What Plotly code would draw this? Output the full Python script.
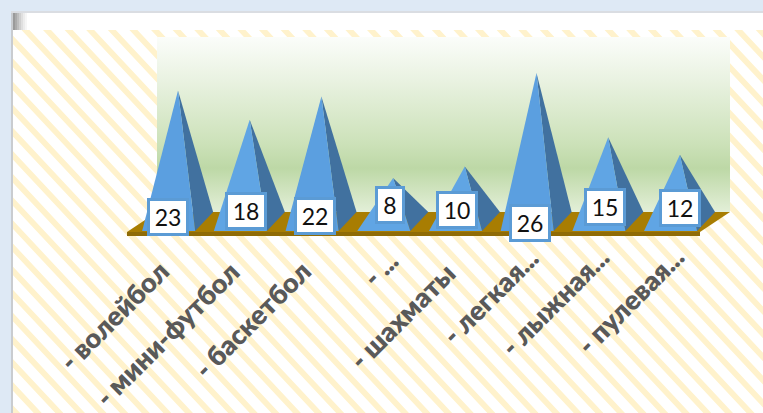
import plotly.graph_objects as go

categories = ["- волейбол", "- мини-футбол", "- баскетбол", "- ...", "- шахматы", "- легкая...", "- лыжная...", "- пулевая..."]
values = [23, 18, 22, 8, 10, 26, 15, 12]

W, H = 763, 413
X0, XS = 178.0, 71.7     # px of category 0, px per category
Y0, YS = 224.7, 5.83     # px of value 0, px per value unit

def dx(p): return (p - X0) / XS
def dy(p): return (Y0 - p) / YS
def pp(x, y): return f"{x / W:.5f} {1 - y / H:.5f}"

# label placement, in pixels
box_cx = [168, 246, 315, 390, 457, 530, 605, 680]
box_cy = [217, 211, 216, 205, 210, 223, 207, 208]
box_w = [36, 36, 36, 24, 36, 36, 36, 36]
label_end_x = [178, 249, 320, 407, 465, 548, 618, 693]
label_end_y = [252, 252, 252, 241, 253, 238, 238, 238]

# stripes behind the chart
STRIPE_PERIOD = 21.6
STRIPE_W = 8
SLOPE = 1.07
segs = []
x = 43.0 - 30 / SLOPE - 40 * STRIPE_PERIOD
while x < W + 100:
    x2 = x + 460 / SLOPE
    segs.append(f"M {pp(x, 0)} L {pp(x + STRIPE_W, 0)} L {pp(x2 + STRIPE_W, 460)} L {pp(x2, 460)} Z")
    x += STRIPE_PERIOD

PAGE = "#DEE9F5"
def rect(x0, y0, x1, y1, color):
    return dict(type="rect", xref="paper", yref="paper", x0=x0 / W, x1=x1 / W,
                y0=1 - y0 / H, y1=1 - y1 / H, fillcolor=color, line_width=0, layer="below")

shapes = [dict(type="path", xref="paper", yref="paper", path=" ".join(segs),
               fillcolor="#FFF2CC", line_width=0, layer="below")]
shapes += [rect(0, 0, W, 12, PAGE), rect(0, 0, 11, H, PAGE), rect(11, 12, 13, H, "#C9CCD0"),
           rect(11, 11, W, 13, "#DADDE2"), rect(13, 13, W, 30, "#FFFFFF")]
for i, c in enumerate(["#9A9A9A", "#ABABAB", "#BDBDBD", "#CFCFCF", "#DFDFDF", "#ECECEC", "#F6F6F6"]):
    shapes.append(rect(13 + i * 2, 13, 15 + i * 2, 30, c))

fig = go.Figure()

def poly(xs, ys, color):
    fig.add_trace(go.Scatter(x=xs, y=ys, mode="lines", fill="toself", fillcolor=color,
                             line=dict(width=0, color=color), hoverinfo="skip", showlegend=False))

# back wall with gradient
fig.add_trace(go.Scatter(
    x=[dx(157), dx(730), dx(730), dx(157)], y=[dy(37), dy(37), dy(212), dy(212)],
    mode="lines", fill="toself", line=dict(width=0), hoverinfo="skip", showlegend=False,
    fillgradient=dict(type="vertical", start=dy(37), stop=dy(212), colorscale=[
        [0, "#FBFDFA"], [0.25, "#E9F2E1"], [0.6, "#CDE2BA"], [0.75, "#BDD8A6"], [1, "#E3EFD8"]])))

# floor
poly([dx(127), dx(157), dx(730), dx(700)], [dy(232), dy(212), dy(212), dy(232)], "#A87D02")
poly([dx(127), dx(700), dx(700), dx(127)], [dy(232), dy(232), dy(236), dy(236)], "#8F6B06")

# pyramids
for i, v in enumerate(values):
    front = "#5B9FE0" if v > 20 else "#60A5E4"
    poly([i + 0.24, i + 0.49, i], [dy(231), dy(212), v], "#41719F")
    poly([i - 0.5, i + 0.24, i], [dy(231), dy(231), v], front)

ann = []
for i, v in enumerate(values):
    ann.append(dict(x=dx(box_cx[i]), y=dy(box_cy[i]), xref="x", yref="y", text=str(v), showarrow=False,
                    width=box_w[i], height=32, bgcolor="#FFFFFF", bordercolor="#5B9BD5", borderwidth=3, borderpad=0,
                    font=dict(family="Lato, Carlito, Noto Sans", size=23, color="#111111"), align="center"))
    ann.append(dict(x=dx(label_end_x[i]), y=dy(label_end_y[i]), xref="x", yref="y", text=categories[i],
                    showarrow=False, textangle=-45, xanchor="right", yanchor="top",
                    font=dict(family="Lato, Noto Sans", size=27, color="#595959", weight=800)))

fig.update_layout(
    width=W, height=H, margin=dict(l=0, r=0, t=0, b=0), paper_bgcolor="#FFFFFF", plot_bgcolor="rgba(0,0,0,0)",
    showlegend=False, shapes=shapes, annotations=ann,
    xaxis=dict(range=[dx(0), dx(W)], visible=False, fixedrange=True),
    yaxis=dict(range=[dy(H), dy(0)], visible=False, fixedrange=True),
)
fig.write_html("out.html", config=dict(displayModeBar=False),
               post_script="document.body.style.margin='0';document.body.style.overflow='hidden';")
